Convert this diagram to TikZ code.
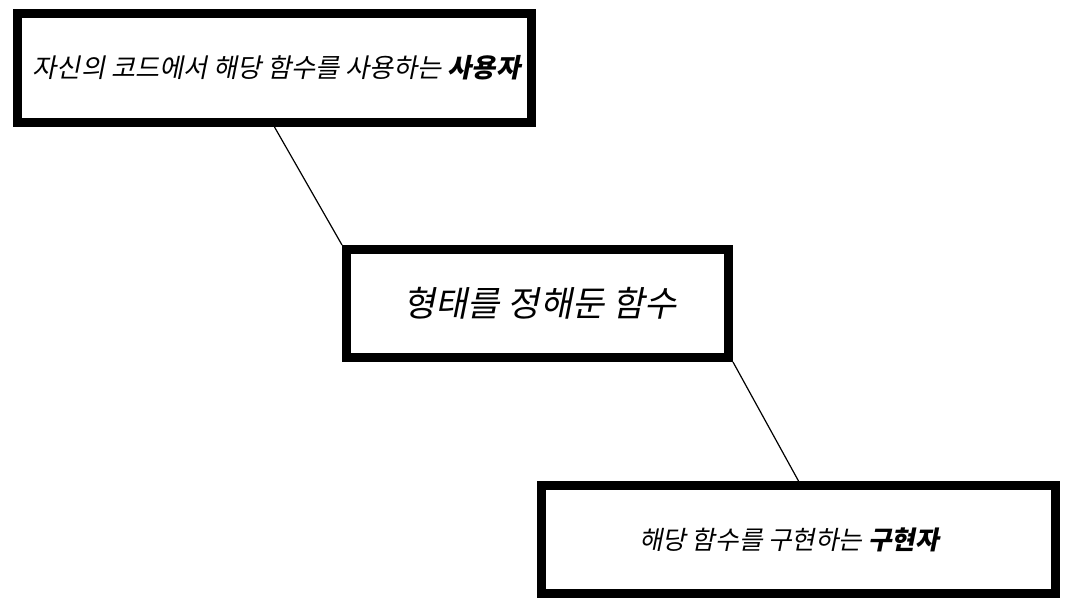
\documentclass[tikz,border=0pt]{standalone}
\usepackage{fontspec}
\usepackage{tikz}
\usetikzlibrary{positioning}
\newfontfamily\kr[FakeSlant=0.2]{Noto Sans CJK KR}

\begin{document}
\begin{tikzpicture}[x=1pt, y=-1pt,
    box/.style={draw, line width=9pt, rectangle, inner sep=0pt}]
    \useasboundingbox (0,0) rectangle (1075,611);
    \node[box, minimum width=514pt, minimum height=109pt, font=\kr\fontsize{26.2pt}{31pt}\selectfont] (user) at (274.5, 68) {\hspace*{4pt}자신의 코드에서 해당 함수를 사용하는 \textbf{사용자}};
    \node[box, minimum width=382pt, minimum height=108pt, font=\kr\fontsize{35pt}{40pt}\selectfont] (func) at (537.5, 303.5) {\hspace*{5pt}형태를 정해둔 함수};
    \node[box, minimum width=514pt, minimum height=108pt, font=\kr\fontsize{25.6pt}{30pt}\selectfont] (impl) at (798.5, 539.5) {해당 함수를 구현하는 \textbf{구현자}\hspace*{19pt}};
    
    \draw[line width=1.2pt] (user.south) -- (func.north west);
    \draw[line width=1.2pt] (func.south east) -- (impl.north);
\end{tikzpicture}
\end{document}
